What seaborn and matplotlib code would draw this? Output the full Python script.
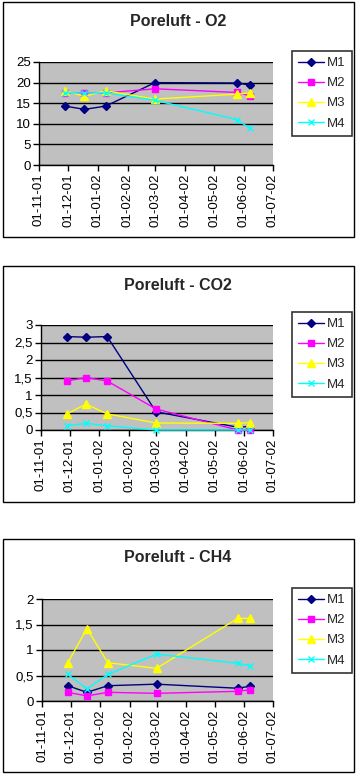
import matplotlib
matplotlib.use("Agg")
import matplotlib.pyplot as plt
import matplotlib.dates as mdates
from matplotlib.patches import Rectangle
from matplotlib.ticker import FuncFormatter, MultipleLocator
import seaborn as sns
import pandas as pd

sns.set_theme(style="white")
plt.rcParams['font.family'] = ['Liberation Sans', 'DejaVu Sans']

dates = ["2001-11-28", "2001-12-18", "2002-01-09", "2002-03-01", "2002-05-25", "2002-06-07"]
series_names = ["M1", "M2", "M3", "M4"]

o2_m1 = [14.3, 13.5, 14.3, 20.0, 19.9, 19.4]
o2_m2 = [17.5, 17.5, 17.5, 18.5, 17.6, 16.8]
o2_m3 = [18.0, 16.7, 18.0, 16.0, 17.2, 17.5]
o2_m4 = [17.5, 17.5, 17.5, 15.7, 11.0, 8.9]

co2_m1 = [2.67, 2.65, 2.67, 0.52, 0.08, 0.10]
co2_m2 = [1.40, 1.50, 1.40, 0.60, 0.0, 0.0]
co2_m3 = [0.46, 0.74, 0.46, 0.20, 0.19, 0.21]
co2_m4 = [0.12, 0.19, 0.12, 0.0, 0.0, 0.0]

ch4_m1 = [0.30, 0.17, 0.30, 0.33, 0.25, 0.29]
ch4_m2 = [0.17, 0.10, 0.17, 0.15, 0.19, 0.22]
ch4_m3 = [0.75, 1.42, 0.75, 0.64, 1.62, 1.62]
ch4_m4 = [0.52, 0.24, 0.52, 0.92, 0.74, 0.69]

titles = ["Poreluft - O2", "Poreluft - CO2", "Poreluft - CH4"]
y_max = [25, 3, 2]
y_step = [5, 0.5, 0.5]

panels_data = [
    [o2_m1, o2_m2, o2_m3, o2_m4],
    [co2_m1, co2_m2, co2_m3, co2_m4],
    [ch4_m1, ch4_m2, ch4_m3, ch4_m4],
]

colors = ["#000080", "#FF00FF", "#FFFF00", "#00FFFF"]
markers = ["D", "s", "^", "x"]
msizes = [4, 5, 5.5, 5]

W, H = 356, 775
fig = plt.figure(figsize=(W / 100, H / 100), dpi=100)
fig.patch.set_facecolor("white")

def px_rect(l, t, r, b):
    return [l / W, 1 - b / H, (r - l) / W, (b - t) / H]

axes_px = [(39, 62, 273, 165), (41, 325, 273, 430), (42, 599, 273, 701)]
frames_px = [(3, 2, 354, 237), (3, 266, 354, 502), (3, 539, 354, 772)]
title_y = [22, 286, 558]
legend_px = [(292, 51), (292, 312), (292, 588)]

def comma_fmt(v, pos):
    s = ("%g" % v)
    return s.replace(".", ",")

for i in range(3):
    fl, ft, fr, fb = frames_px[i]
    fig.patches.append(Rectangle((fl / W, 1 - fb / H), (fr - fl) / W, (fb - ft) / H,
                                 transform=fig.transFigure, fill=False,
                                 edgecolor="black", linewidth=1.0, zorder=0))
    ax = fig.add_axes(px_rect(*axes_px[i]))
    ax.set_facecolor("#C0C0C0")
    rows = []
    for name, vals in zip(series_names, panels_data[i]):
        for d, v in zip(dates, vals):
            rows.append({"date": pd.Timestamp(d), "value": v, "series": name})
    df = pd.DataFrame(rows)
    for j, name in enumerate(series_names):
        sub = df[df["series"] == name]
        sns.lineplot(data=sub, x="date", y="value", ax=ax, color=colors[j],
                     marker=markers[j], markersize=msizes[j], linewidth=1.0,
                     markeredgecolor=colors[j], markeredgewidth=1.0,
                     label=name, clip_on=False, zorder=3 + j)
    ax.set_xlim(pd.Timestamp("2001-11-01"), pd.Timestamp("2002-07-01"))
    ax.set_ylim(0, y_max[i])
    ax.yaxis.set_major_locator(MultipleLocator(y_step[i]))
    ax.yaxis.set_major_formatter(FuncFormatter(comma_fmt))
    ax.xaxis.set_major_locator(mdates.MonthLocator())
    ax.xaxis.set_major_formatter(mdates.DateFormatter("%d-%m-%y"))
    ax.set_xlabel("")
    ax.set_ylabel("")
    for sp in ["top", "right"]:
        ax.spines[sp].set_visible(False)
    for sp in ["left", "bottom"]:
        ax.spines[sp].set_color("black")
        ax.spines[sp].set_linewidth(1.0)
    ax.grid(axis="y", color="black", linewidth=1.0)
    ax.set_axisbelow(True)
    ax.tick_params(axis="both", which="major", direction="out", length=4, width=1,
                   color="black", labelsize=9.5, labelcolor="black", pad=2,
                   bottom=True, left=True)
    plt.setp(ax.get_xticklabels(), rotation=90)
    fig.canvas.draw()
    gl = ax.get_ygridlines()
    if gl:
        gl[-1].set_visible(False)
    fig.text(178 / W, 1 - title_y[i] / H, titles[i], ha="center", va="center",
             fontsize=11.5, fontweight="bold")
    lx, ly = legend_px[i]
    leg = ax.legend(loc="upper left", bbox_to_anchor=(lx / W, 1 - ly / H),
                    bbox_transform=fig.transFigure, frameon=True, fancybox=False,
                    fontsize=9.5, handlelength=2.0, handletextpad=0.2,
                    borderpad=0.45, labelspacing=0.6, borderaxespad=0)
    leg.get_frame().set_edgecolor("black")
    leg.get_frame().set_linewidth(1.2)
    leg.get_frame().set_facecolor("white")

fig.savefig("out.png", dpi=100, facecolor="white")
